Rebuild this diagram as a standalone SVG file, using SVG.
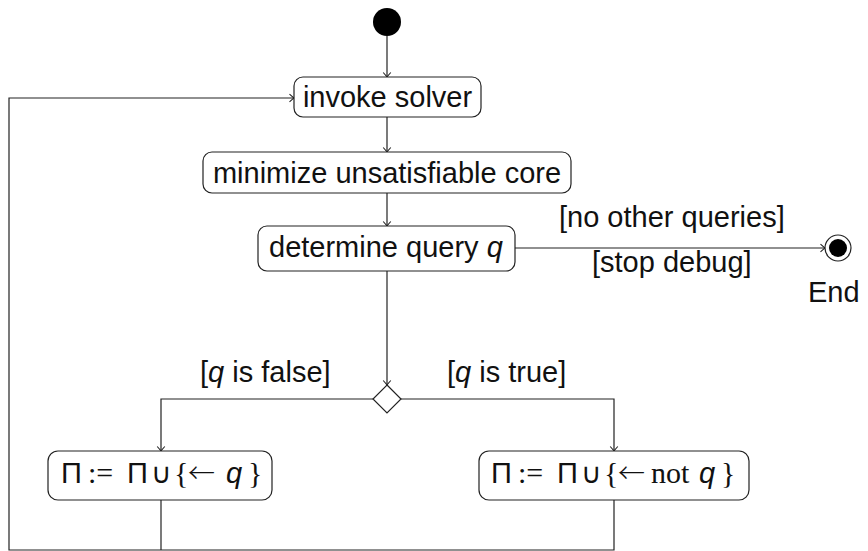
<svg xmlns="http://www.w3.org/2000/svg" width="868" height="551" viewBox="0 0 868 551">
  <style>
    .node { fill: #ffffff; stroke: #222222; stroke-width: 1.2; }
    .edge { fill: none; stroke: #222222; stroke-width: 1.2; }
    .lbl { font-family: "Liberation Sans", Arial, sans-serif; font-size: 29px; fill: #111111; }
    .it { font-style: italic; }
    .sym { font-family: "DejaVu Sans", sans-serif; font-size: 28px; }
    .arr { font-family: "Noto Sans CJK JP", "DejaVu Sans", sans-serif; font-size: 27px; font-weight: 300; }
    .br { font-family: "Liberation Serif", "Times New Roman", serif; font-size: 30px; }
    .rm { font-family: "Liberation Serif", "Times New Roman", serif; font-size: 30px; }
  </style>
  <defs>
    <marker id="to" markerUnits="userSpaceOnUse" markerWidth="12" markerHeight="12" refX="0" refY="0" viewBox="-6 -6 12 12" orient="auto">
      <path d="M-4.5,-3.8 Q-1.2,-0.8 0,0 Q-1.2,0.8 -4.5,3.8" fill="none" stroke="#222222" stroke-width="1.1"/>
    </marker>
  </defs>

  <!-- connectors -->
  <g id="connectors">
    <path class="edge" d="M387,36 V77" marker-end="url(#to)"/>
    <path class="edge" d="M387,117 V152" marker-end="url(#to)"/>
    <path class="edge" d="M387,193 V226" marker-end="url(#to)"/>
    <path class="edge" d="M515,248 H825" marker-end="url(#to)"/>
    <path class="edge" d="M387,271 V385" marker-end="url(#to)"/>
    <path class="edge" d="M373,399 H161 V451" marker-end="url(#to)"/>
    <path class="edge" d="M401,399 H614 V451" marker-end="url(#to)"/>
    <path class="edge" d="M161,500 V550"/>
    <path class="edge" d="M614,500 V550 H9 V98 H294" marker-end="url(#to)"/>
    <text class="lbl" x="559" y="227">[no other queries]</text>
    <text class="lbl" x="592" y="272">[stop debug]</text>
    <text class="lbl" x="200" y="382">[<tspan class="it">q</tspan> is false]</text>
    <text class="lbl" x="447" y="382">[<tspan class="it">q</tspan> is true]</text>
  </g>

  <!-- initial node -->
  <g id="start">
    <circle cx="387" cy="22" r="14" fill="#000000"/>
  </g>

  <g id="invoke">
    <rect class="node" x="294" y="77" width="187" height="40" rx="9"/>
    <text class="lbl" x="387.5" y="107" text-anchor="middle">invoke solver</text>
  </g>

  <g id="minimize">
    <rect class="node" x="203" y="152" width="368" height="41" rx="9"/>
    <text class="lbl" x="387" y="183" text-anchor="middle">minimize unsatisfiable core</text>
  </g>

  <g id="determine">
    <rect class="node" x="258" y="226" width="257" height="45" rx="9"/>
    <text class="lbl" x="269" y="257">determine query <tspan class="it">q</tspan></text>
  </g>

  <!-- final node -->
  <g id="end">
    <circle cx="838" cy="248" r="13" fill="#ffffff" stroke="#222222" stroke-width="1.2"/>
    <circle cx="838" cy="248" r="9" fill="#000000"/>
    <text class="lbl" x="808" y="302">End</text>
  </g>

  <!-- decision -->
  <g id="decision">
    <polygon class="node" points="387,385 401,399 387,413 373,399"/>
  </g>

  <g id="add-neg">
    <rect class="node" x="48" y="451" width="224" height="49" rx="10"/>
    <text class="lbl" y="483"><tspan x="61">Π</tspan><tspan x="88" class="rm">:=</tspan><tspan x="127">Π</tspan><tspan x="151" class="sym">∪</tspan><tspan x="174" class="br">{</tspan><tspan x="188" class="arr">←</tspan><tspan x="226" class="it">q</tspan><tspan x="248" class="br">}</tspan></text>
  </g>

  <g id="add-pos">
    <rect class="node" x="479" y="451" width="270" height="49" rx="10"/>
    <text class="lbl" y="483"><tspan x="491">Π</tspan><tspan x="518" class="rm">:=</tspan><tspan x="557">Π</tspan><tspan x="581" class="sym">∪</tspan><tspan x="604" class="br">{</tspan><tspan x="618" class="arr">←</tspan><tspan x="651" class="rm">not</tspan><tspan x="699" class="it">q</tspan><tspan x="721" class="br">}</tspan></text>
  </g>
</svg>
